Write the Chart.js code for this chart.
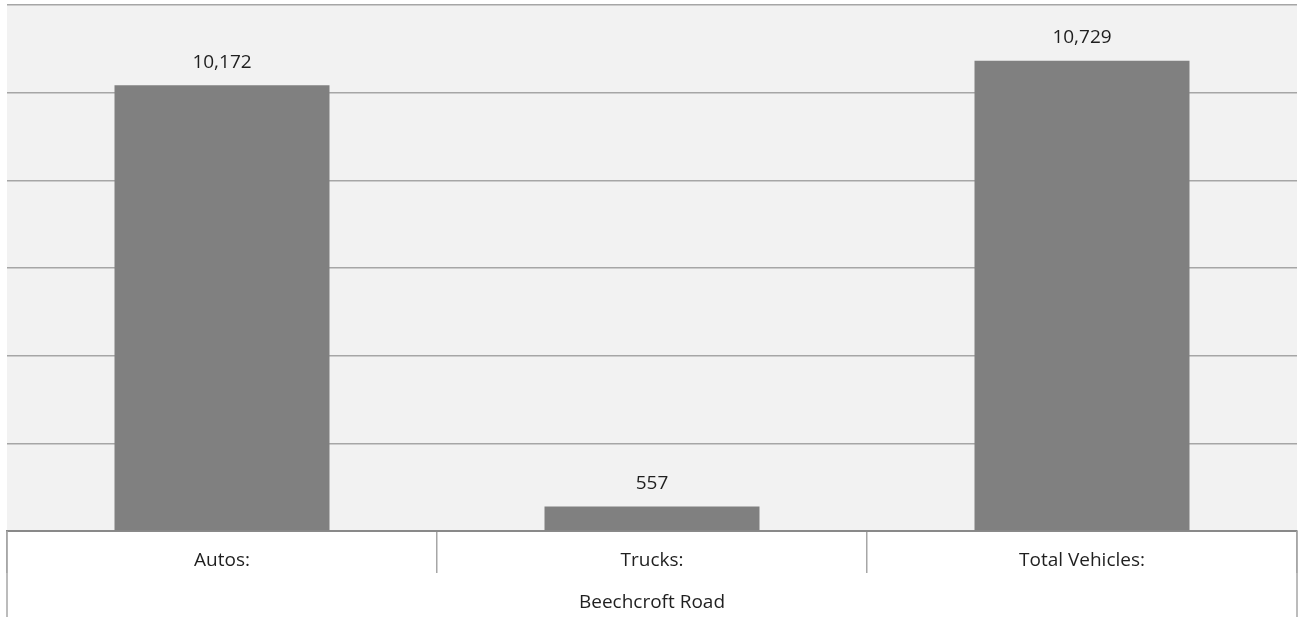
<!DOCTYPE html>
<html>
<head>
<meta charset="utf-8">
<script src="https://cdn.jsdelivr.net/npm/chart.js@4"></script>
<style>
  html, body { margin: 0; padding: 0; background: #ffffff; }
  #wrap { width: 1299px; height: 617px; }
</style>
</head>
<body>
<div id="wrap"><canvas id="barChart" width="1299" height="617"></canvas></div>
<script>
// Conteos de vehículos por tipo
const categorias = ['Autos:', 'Trucks:', 'Total Vehicles:'];
const conteos = [10172, 557, 10729];
const grupo = 'Beechcroft Road';
const ejeMax = 12000;
const ejePaso = 2000;

const fuente = '"Open Sans", "Noto Sans", sans-serif';

// Fondo gris del área de trazado
const fondoPlot = {
    id: 'fondoPlot',
    beforeDraw(chart) {
        const { ctx, chartArea } = chart;
        ctx.save();
        ctx.fillStyle = '#f2f2f2';
        ctx.fillRect(chartArea.left, chartArea.top, chartArea.right - chartArea.left, chartArea.bottom - chartArea.top);
        ctx.restore();
    }
};

// Etiquetas de valor, nombres de categoría y el rótulo del grupo
const etiquetas = {
    id: 'etiquetas',
    afterDraw(chart) {
        const { ctx, chartArea } = chart;
        const x = chart.scales.x;
        ctx.save();
        ctx.font = '19px ' + fuente;
        ctx.fillStyle = '#1f1f1f';
        ctx.textAlign = 'center';
        ctx.textBaseline = 'middle';

        // valores encima de cada barra
        chart.getDatasetMeta(0).data.forEach((bar, i) => {
            ctx.fillText(conteos[i].toLocaleString('en-US'), bar.x, bar.y - 23);
        });

        // nombres de categoría bajo el eje
        categorias.forEach((c, i) => {
            ctx.fillText(c, x.getPixelForValue(i), chartArea.bottom + 30);
        });

        // rótulo del grupo
        ctx.fillText(grupo, (chartArea.left + chartArea.right) / 2, chartArea.bottom + 72);

        // líneas exteriores hasta el borde inferior
        ctx.strokeStyle = '#a6a6a6';
        ctx.lineWidth = 1.5;
        [chartArea.left, chartArea.right].forEach(px => {
            ctx.beginPath();
            ctx.moveTo(px, chartArea.bottom);
            ctx.lineTo(px, chart.height);
            ctx.stroke();
        });
        ctx.restore();
    }
};

new Chart(document.getElementById('barChart').getContext('2d'), {
    type: 'bar',
    data: {
        labels: categorias,
        datasets: [{
            data: conteos,
            backgroundColor: '#808080',
            borderWidth: 0,
            barPercentage: 0.5,
            categoryPercentage: 1
        }]
    },
    options: {
        responsive: false,
        animation: false,
        layout: { padding: { left: 7, right: 2, top: 5, bottom: 0 } },
        plugins: {
            legend: { display: false },
            tooltip: { enabled: false }
        },
        scales: {
            x: {
                grid: {
                    offset: true,
                    drawOnChartArea: false,
                    drawTicks: true,
                    tickLength: 42,
                    color: '#a6a6a6',
                    lineWidth: 1.5
                },
                border: { display: true, color: '#898989', width: 2 },
                ticks: { display: false },
                afterFit(scale) { scale.height = 86; }
            },
            y: {
                min: 0,
                max: ejeMax,
                ticks: { display: false, stepSize: ejePaso },
                grid: { color: '#a6a6a6', lineWidth: 1.5, drawTicks: false },
                border: { display: false }
            }
        }
    },
    plugins: [fondoPlot, etiquetas]
});
</script>
</body>
</html>
